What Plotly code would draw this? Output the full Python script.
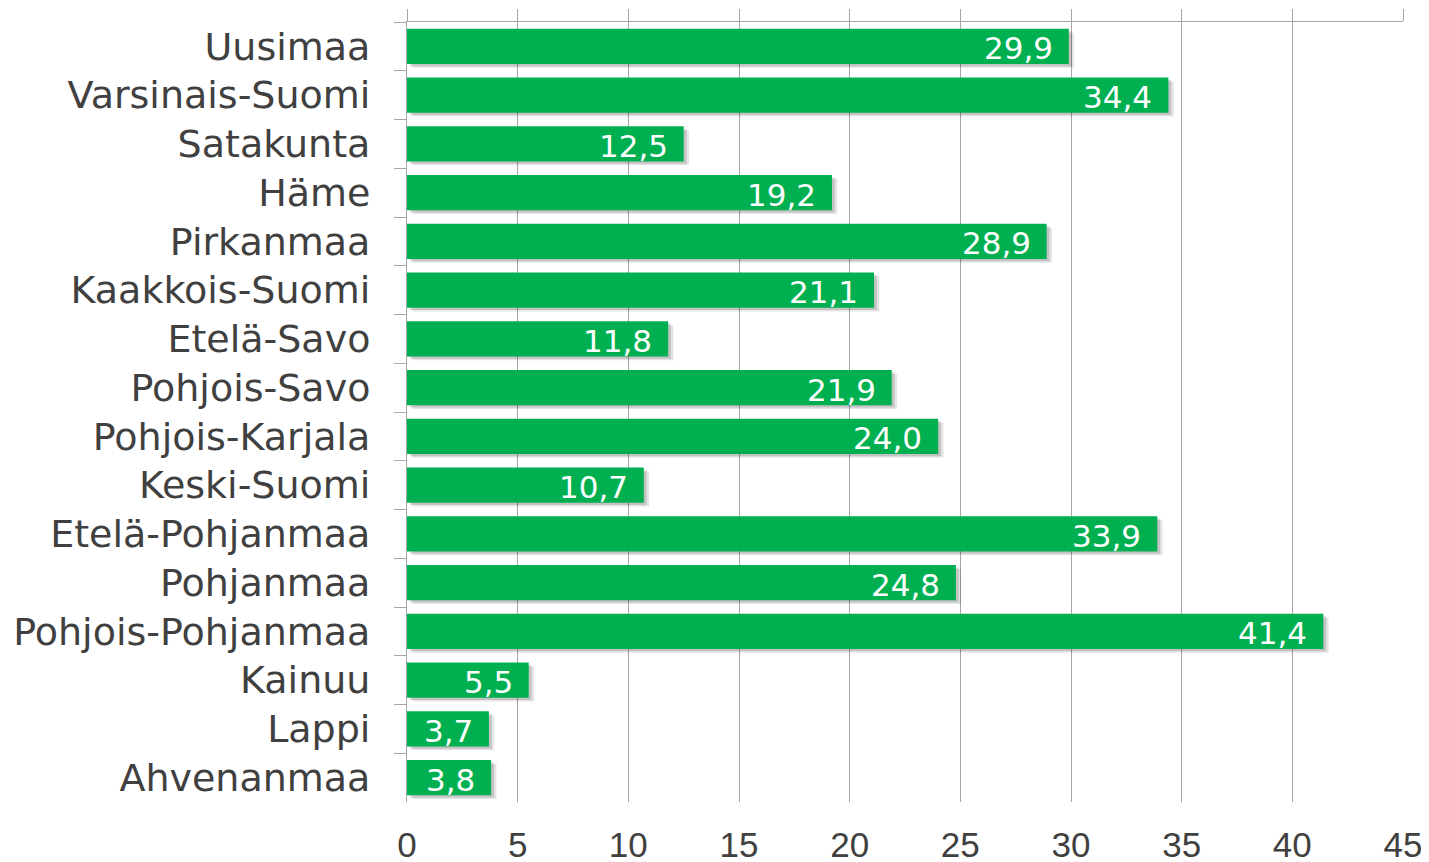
import plotly.graph_objects as go

regions = ["Uusimaa", "Varsinais-Suomi", "Satakunta", "Häme", "Pirkanmaa",
           "Kaakkois-Suomi", "Etelä-Savo", "Pohjois-Savo", "Pohjois-Karjala",
           "Keski-Suomi", "Etelä-Pohjanmaa", "Pohjanmaa", "Pohjois-Pohjanmaa",
           "Kainuu", "Lappi", "Ahvenanmaa"]
values = [29.9, 34.4, 12.5, 19.2, 28.9, 21.1, 11.8, 21.9, 24.0, 10.7,
          33.9, 24.8, 41.4, 5.5, 3.7, 3.8]
x_ticks = [0, 5, 10, 15, 20, 25, 30, 35, 40, 45]

GREEN = "#00B050"
GRID = "#A6A6A6"
TEXT = "#404040"

fig = go.Figure()

# soft shadow (two layers)
fig.add_trace(go.Bar(y=regions, x=values, orientation="h", base=0.24,
                     width=0.72, offset=-0.28,
                     marker=dict(color="rgba(0,0,0,0.10)", line=dict(width=0)),
                     hoverinfo="skip", xaxis="x", yaxis="y"))
fig.add_trace(go.Bar(y=regions, x=values, orientation="h", base=0.13,
                     width=0.72, offset=-0.31,
                     marker=dict(color="rgba(0,0,0,0.15)", line=dict(width=0)),
                     hoverinfo="skip", xaxis="x", yaxis="y"))
# main bars
fig.add_trace(go.Bar(y=regions, x=values, orientation="h", width=0.72,
                     marker=dict(color=GREEN, line=dict(width=0)),
                     xaxis="x2", yaxis="y"))

for r, v in zip(regions, values):
    fig.add_annotation(x=v, y=r, xref="x", yref="y",
                       text=f"{v:.1f}".replace(".", ","),
                       showarrow=False, xanchor="right", yanchor="middle",
                       xshift=-14, yshift=-2,
                       font=dict(family="DejaVu Sans", size=31, color="white"))

# the page body adds an 8px margin, so the figure is sized to compensate
fig.update_layout(
    width=1421, height=854,
    margin=dict(l=399, r=26, t=14, b=60, autoexpand=False),
    paper_bgcolor="white", plot_bgcolor="white",
    barmode="overlay", showlegend=False, bargap=0.28,
    xaxis=dict(range=[0, 45], tickvals=x_ticks, ticktext=[str(t) for t in x_ticks],
               showgrid=True, gridcolor=GRID, gridwidth=1, automargin=False,
               zeroline=False, showline=False, ticks="",
               tickfont=dict(family="Liberation Sans", size=35, color=TEXT),
               ticklabelstandoff=19),
    xaxis2=dict(overlaying="x", matches="x", side="top", automargin=False,
                tickvals=x_ticks, showticklabels=False, showgrid=False,
                zeroline=False, showline=True, linecolor=GRID, linewidth=1,
                ticks="outside", ticklen=12, tickcolor=GRID, tickwidth=1),
    yaxis=dict(autorange="reversed", showgrid=False, zeroline=False,
               showline=True, linecolor=GRID, linewidth=1, automargin=False,
               ticks="outside", ticklen=12, tickcolor=GRID, tickwidth=1,
               tickson="boundaries",
               tickfont=dict(family="DejaVu Sans", size=38, color=TEXT),
               ticklabelstandoff=28),
)

fig.write_html("out.html")
